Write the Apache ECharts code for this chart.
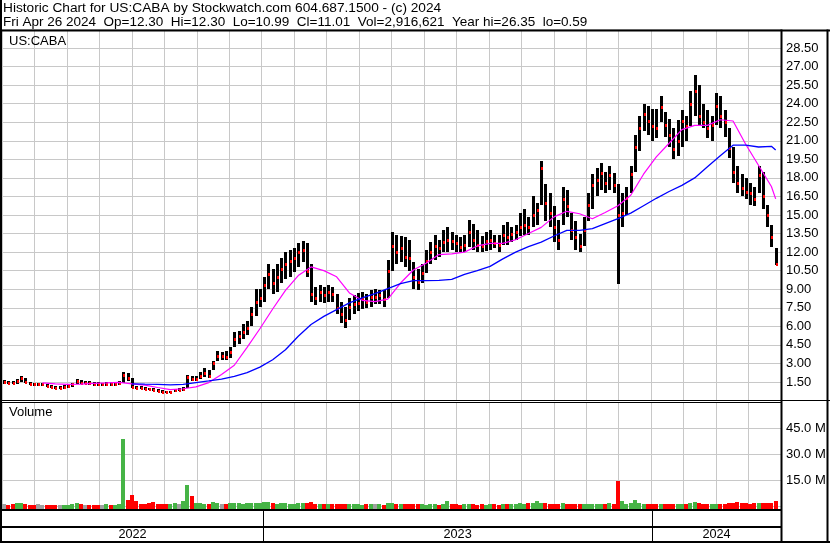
<!DOCTYPE html>
<html><head><meta charset="utf-8">
<script src="https://cdn.jsdelivr.net/npm/echarts@6/dist/echarts.min.js"></script>
<style>html,body{margin:0;padding:0;background:#fff}#c{width:830px;height:543px}</style>
</head><body><div id="c"></div>
<script>
// ---------- DATA ----------
const titleLine1 = 'Historic Chart for US:CABA by Stockwatch.com 604.687.1500 - (c) 2024';
const titleLine2 = 'Fri Apr 26 2024  Op=12.30  Hi=12.30  Lo=10.99  Cl=11.01  Vol=2,916,621  Year hi=26.35  lo=0.59';
const symbolLabel = 'US:CABA';
const volumeLabel = 'Volume';
const yearLabels = ['2022', '2023', '2024'];
const axisStart = '2022-05-01';
const axisEnd = '2024-05-01';
const monthsShown = 24;
const lastBarDate = '2024-04-26';
const barStepDays = 4;

const highs = [
1.65,1.6,1.55,1.7,2.0,1.8,1.5,1.45,1.45,1.45,
1.3,1.25,1.2,1.2,1.25,1.3,1.45,1.7,1.65,1.6,
1.55,1.5,1.5,1.45,1.5,1.5,1.5,1.6,2.3,2.2,
1.8,1.2,1.15,1.1,1.05,1.0,0.9,0.85,0.8,0.8,
0.95,1.0,1.1,2.1,2.0,1.95,2.3,2.6,2.5,3.2,
4.0,3.9,4.0,4.3,5.5,5.6,6.2,6.4,7.6,9.0,
9.0,10.0,11.0,10.6,11.0,11.5,12.0,12.2,12.3,12.7,
12.9,12.7,11.0,9.2,9.3,9.2,9.3,9.2,8.6,8.0,
7.6,8.3,8.5,8.7,8.8,8.6,8.9,9.0,8.9,8.9,
11.4,13.6,13.4,13.3,13.2,13.0,11.2,10.6,11.0,12.2,
12.8,13.4,13.0,13.8,14.0,13.6,13.4,13.2,13.4,14.6,
14.3,13.8,13.3,13.6,13.8,13.4,13.4,14.2,14.4,14.0,
14.2,15.2,15.5,14.8,16.5,16.0,19.4,17.5,16.8,15.7,
14.6,17.3,17.0,15.2,14.5,13.5,14.8,16.8,18.3,18.8,
19.2,18.5,19.0,18.4,17.5,16.8,17.3,19.0,21.5,23.0,
24.0,23.8,23.6,23.6,24.6,23.3,22.8,22.0,22.7,23.5,
23.0,25.0,26.35,25.5,24.0,23.5,23.0,24.9,24.6,23.5,
22.0,20.5,19.0,18.3,18.0,17.6,17.3,19.0,18.5,15.8,
14.2,12.3];
const lows = [
1.35,1.35,1.3,1.35,1.5,1.4,1.25,1.2,1.2,1.15,
1.1,1.0,0.95,0.95,0.95,1.0,1.1,1.3,1.3,1.3,
1.25,1.2,1.2,1.15,1.2,1.15,1.2,1.25,1.4,1.6,
1.0,0.95,0.9,0.85,0.85,0.75,0.7,0.6,0.59,0.6,
0.65,0.75,0.8,1.0,1.55,1.6,1.7,1.9,1.8,2.5,
3.2,3.3,3.3,3.4,4.3,4.6,5.0,5.3,6.0,6.8,
7.6,8.0,9.0,8.6,8.8,9.5,9.8,10.0,10.4,10.8,
11.2,10.0,8.0,7.7,8.0,7.9,8.0,8.0,7.0,6.3,
5.9,6.5,7.0,7.2,7.4,7.5,7.6,7.8,7.8,7.6,
8.3,10.5,11.0,11.2,10.8,10.5,9.0,8.9,9.5,10.3,
11.0,11.4,11.6,12.0,12.0,12.2,12.0,12.0,12.0,12.4,
12.2,12.0,12.0,12.1,12.2,12.3,12.0,12.6,12.6,12.8,
13.0,13.3,13.4,13.4,14.0,14.2,15.8,14.5,14.0,12.8,
12.2,14.2,14.8,13.0,12.2,12.0,12.5,14.5,15.5,16.5,
17.0,16.8,17.0,16.8,9.4,14.0,15.0,16.8,18.5,20.2,
21.8,21.5,21.0,21.2,22.5,21.3,20.5,19.5,19.8,20.5,
21.0,22.2,23.0,22.3,22.0,21.2,21.0,22.3,22.0,21.3,
19.6,17.6,16.8,16.5,16.3,15.8,15.7,16.8,15.5,14.0,
12.4,10.99];
const closes = [
1.5,1.45,1.4,1.6,1.85,1.5,1.35,1.3,1.3,1.3,
1.2,1.1,1.05,1.05,1.1,1.15,1.35,1.55,1.45,1.45,
1.4,1.35,1.3,1.3,1.35,1.3,1.35,1.4,2.1,1.8,
1.1,1.05,1.0,0.95,0.9,0.85,0.75,0.7,0.65,0.7,
0.85,0.85,0.95,1.9,1.7,1.75,2.0,2.2,2.0,3.0,
3.6,3.6,3.5,3.9,5.0,5.2,5.5,5.9,7.0,8.0,
8.3,9.3,10.2,9.5,10.0,10.6,11.0,11.3,11.5,12.0,
12.2,10.5,8.6,8.3,8.8,8.5,8.8,8.6,7.5,7.0,
6.5,7.6,7.8,7.9,8.2,8.0,8.4,8.4,8.5,8.2,
10.5,12.5,12.0,12.3,11.6,11.5,10.0,9.6,10.3,11.3,
12.0,12.5,12.3,12.8,13.0,12.9,12.7,12.4,12.6,13.6,
13.0,12.6,12.5,12.9,13.0,12.7,12.6,13.4,13.2,13.5,
13.6,14.0,14.2,14.0,15.0,15.4,18.8,16.0,15.2,14.0,
13.0,16.3,15.7,13.8,13.2,12.5,13.8,15.8,17.4,17.8,
18.4,17.6,18.2,17.4,15.0,15.2,16.4,18.3,20.5,22.0,
23.2,22.6,22.2,22.0,23.7,22.3,21.5,20.3,21.0,22.6,
22.2,24.0,25.0,23.0,22.5,22.0,22.3,23.8,23.0,22.5,
20.4,18.5,17.6,17.2,16.9,16.8,16.3,18.2,16.5,15.0,
13.2,11.01];
// volume in millions of shares
const volumes = [
1.2,0.8,0.9,1.5,2.0,1.0,0.8,0.7,0.9,0.8,
0.7,0.8,0.6,0.7,0.6,0.8,1.0,1.6,0.9,0.8,
0.7,0.8,0.7,0.6,0.9,0.7,0.8,1.0,38.6,3.5,
6.3,3.0,1.2,1.0,1.5,2.2,1.0,1.4,1.0,0.9,
1.5,1.0,3.0,12.0,5.8,1.6,2.0,1.2,1.0,2.2,
1.8,1.4,1.0,1.6,2.0,1.5,1.4,1.7,2.0,1.8,
1.6,2.2,2.5,1.5,1.4,1.8,1.6,1.2,1.4,1.5,
1.6,2.0,2.2,1.3,1.0,1.2,1.0,0.9,1.1,1.2,
1.4,1.2,1.0,1.0,0.8,1.0,0.9,1.0,0.9,0.8,
1.5,1.6,1.2,1.0,0.9,1.0,1.0,1.2,0.9,0.8,
0.9,1.0,0.8,0.9,3.0,1.0,0.9,0.8,0.9,1.0,
0.9,0.8,0.9,0.8,0.9,1.0,0.8,0.9,1.0,1.2,
1.0,1.5,1.2,2.0,1.5,3.0,2.0,1.6,1.2,1.4,
1.2,1.5,1.2,1.0,1.2,1.1,1.0,1.2,1.4,1.2,
1.0,1.2,1.5,1.4,14.4,3.0,1.4,1.8,3.5,1.5,
1.2,1.0,1.2,1.1,1.0,1.2,1.4,1.2,1.3,1.2,
1.4,1.6,2.2,1.5,1.2,1.0,1.2,1.0,1.1,1.2,
1.6,1.8,2.2,2.0,1.6,1.4,1.5,1.8,1.9,1.6,
2.0,2.9];
// moving averages, one value every 3rd bar (plus the last bar)
const maFastFirstBar = 9;
const maFast = [1.42,1.35,1.3,1.33,1.38,1.42,1.47,
1.35,1.25,1.05,0.88,0.95,1.1,1.45,2.1,2.85,4.3,
5.8,7.4,8.9,10.1,10.8,10.5,10.0,8.7,8.1,8.0,
8.2,9.5,10.55,11.1,11.8,11.85,12.0,12.5,12.7,12.7,
13.0,13.5,14.0,14.85,15.3,15.1,14.7,15.2,15.75,16.6,
18.3,19.7,20.8,21.9,22.25,22.25,22.7,22.6,20.7,19.0,
17.3,16.3];
const maSlowFirstBar = 30;
const maSlow = [1.35,1.32,1.3,1.27,1.3,1.45,1.58,1.72,1.95,2.25,
2.7,3.3,4.1,5.2,6.15,6.8,7.35,7.9,8.3,8.65,
9.05,9.45,9.7,9.7,9.72,9.8,10.2,10.5,10.85,11.45,
12.0,12.45,12.8,13.3,13.75,13.75,13.9,14.3,14.7,15.15,
15.75,16.35,16.9,17.4,18.0,18.9,19.8,20.65,20.65,20.5,
20.55,20.25];

// ---------- BUILD ----------
const DAY = 86400000;
const ts = s => Date.parse(s + 'T00:00:00Z');
const N = closes.length;
const lastTs = ts(lastBarDate);
const barTs = closes.map((_, i) => lastTs - (N - 1 - i) * barStepDays * DAY);
const xMin = ts(axisStart), xMax = ts(axisEnd);
const monthInterval = (xMax - xMin) / monthsShown;

function maSeriesData(arr, first) {
  return arr.map((v, k) => {
    const idx = (k === arr.length - 1) ? N - 1 : first + 3 * k;
    return [barTs[idx], v];
  });
}
const ohlcData = closes.map((c, i) => [barTs[i], highs[i], lows[i], c]);
const volData = volumes.map((v, i) => {
  const dir = i === 0 ? 0 : (closes[i] > closes[i - 1] ? 1 : (closes[i] < closes[i - 1] ? -1 : 0));
  return [barTs[i], v, dir];
});

const FONT = '"Liberation Sans", Arial, sans-serif';
const GRID_C = '#c8c8c8';
const VOL_COLORS = { '1': '#46b446', '-1': '#ff0000', '0': '#a0a0a0' };

const chart = echarts.init(document.getElementById('c'), null, { renderer: 'canvas' });

const option = {
  animation: false,
  backgroundColor: '#fff',
  grid: [
    { left: 2, top: 29.5, width: 779, height: 371 },
    { left: 2, top: 402, width: 779, height: 104 }
  ],
  xAxis: [0, 1].map(g => ({
    type: 'value', gridIndex: g, min: xMin, max: xMax, interval: monthInterval,
    axisLine: { show: false }, axisTick: { show: false }, axisLabel: { show: false },
    splitLine: { show: true, lineStyle: { color: GRID_C, width: 1 } }
  })),
  yAxis: [
    {
      type: 'value', gridIndex: 0, position: 'right', min: 0, max: 30, interval: 1.5,
      axisLine: { show: false }, axisTick: { show: false },
      axisLabel: { margin: 5, color: '#000', fontSize: 13, fontFamily: FONT,
        formatter: v => (v <= 0 || v >= 30) ? '' : v.toFixed(2) },
      splitLine: { lineStyle: { color: GRID_C, width: 1 } }
    },
    {
      type: 'value', gridIndex: 1, position: 'right', min: 0, max: 60, interval: 15,
      axisLine: { show: false }, axisTick: { show: false },
      axisLabel: { margin: 5, color: '#000', fontSize: 13, fontFamily: FONT,
        formatter: v => (v <= 0 || v >= 60) ? '' : v.toFixed(1) + ' M' },
      splitLine: { lineStyle: { color: GRID_C, width: 1 } }
    }
  ],
  series: [
    {
      type: 'custom', xAxisIndex: 0, yAxisIndex: 0, z: 20, data: ohlcData,
      renderItem: (params, api) => {
        const t = api.value(0);
        const pH = api.coord([t, api.value(1)]), pL = api.coord([t, api.value(2)]), pC = api.coord([t, api.value(3)]);
        const x = Math.round(pH[0]);
        return { type: 'group', children: [
          { type: 'rect', shape: { x: x - 1, y: Math.round(pH[1]), width: 3, height: Math.max(2, Math.round(pL[1]) - Math.round(pH[1])) }, style: { fill: '#000' } },
          { type: 'rect', shape: { x: x, y: Math.round(pC[1]) - 1, width: 2, height: 3 }, style: { fill: '#ff0000' } }
        ] };
      }
    },
    {
      type: 'line', xAxisIndex: 0, yAxisIndex: 0, z: 21, data: maSeriesData(maFast, maFastFirstBar),
      showSymbol: false, lineStyle: { color: '#ff00ff', width: 1.2 }, silent: true
    },
    {
      type: 'line', xAxisIndex: 0, yAxisIndex: 0, z: 21, data: maSeriesData(maSlow, maSlowFirstBar),
      showSymbol: false, lineStyle: { color: '#0000ff', width: 1.3 }, silent: true
    },
    {
      type: 'custom', xAxisIndex: 1, yAxisIndex: 1, z: 20, clip: false, data: volData,
      renderItem: (params, api) => {
        const t = api.value(0);
        const p = api.coord([t, api.value(1)]), b = api.coord([t, 0]);
        const x = Math.round(p[0]);
        return { type: 'rect', shape: { x: x - 2, y: Math.round(p[1]), width: 4, height: Math.round(b[1]) - Math.round(p[1]) + 3 },
          style: { fill: VOL_COLORS[String(api.value(2))] } };
      }
    }
  ]
};
chart.setOption(option);

// ---------- frame, texts, year strip ----------
const xPix = t => chart.convertToPixel({ xAxisIndex: 0 }, t);
const yearBounds = [xMin, ts('2023-01-01'), ts('2024-01-01'), xMax];
const gfx = [];
const R = (x, y, w, h, fill) => gfx.push({ type: 'rect', z: 100, silent: true, shape: { x: x, y: y, width: w, height: h }, style: { fill: fill || '#000' } });
const T = (x, y, text, size, align) => gfx.push({ type: 'text', z: 101, silent: true, x, y,
  style: { text, font: size + 'px ' + FONT, fill: '#000', textAlign: align || 'left', textVerticalAlign: 'middle' } });

T(3, 8, titleLine1, 13.7);
T(3, 22.5, titleLine2, 13.5);
T(9, 41.7, symbolLabel, 13);
T(9, 412.7, volumeLabel, 13);

R(0, 29.5, 830, 2);          // top line
R(0, 0, 2, 543);             // left border
R(826.5, 29.5, 2, 513);      // right border
R(780.5, 29.5, 2, 513);      // plot right edge
R(0, 400, 830, 1);           // price / volume divider
R(0, 402, 781, 1);
R(0, 509, 781, 2);           // volume bottom
R(0, 526, 781, 2);           // strip divider
R(0, 541, 830, 2);           // bottom
for (let k = 1; k < yearBounds.length - 1; k++) {
  const x = Math.round(xPix(yearBounds[k]));
  R(x, 511, 1, 30);
}
for (let k = 0; k < yearLabels.length; k++) {
  const cx = (xPix(yearBounds[k]) + xPix(yearBounds[k + 1])) / 2;
  T(cx, 534.5, yearLabels[k], 12.7, 'center');
}
chart.setOption({ graphic: { elements: gfx } });
</script></body></html>
